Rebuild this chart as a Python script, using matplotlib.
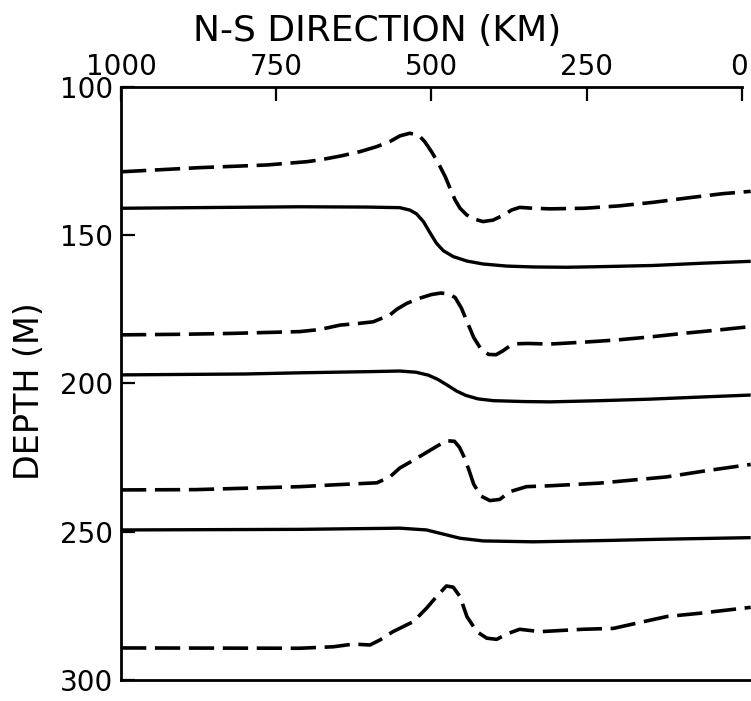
import matplotlib
matplotlib.use("Agg")
import matplotlib.pyplot as plt
from matplotlib.transforms import ScaledTranslation

# profiles: distance (km) and depth (m)
d1_km = [1000, 873, 765, 701, 680, 647, 615, 588, 567, 551, 535, 521, 511, 500, 489, 478, 470, 462, 454,
         443, 430, 417, 401, 384, 371, 358, 336, 309, 254, 198, 143, 87, 32, -14]
d1_z = [128.6, 127.2, 126.3, 125.2, 124.6, 123.3, 121.8, 120.1, 118.4, 116.5, 115.6, 116.2, 118.4, 121.8, 125.7,
        130.2, 134.2, 138.1, 140.9, 143.2, 144.6, 145.4, 144.9, 143.2, 141.5, 140.6, 140.9, 141.1, 140.9, 140.1,
        138.9, 137.4, 136.0, 135.2]

s1_km = [1000, 712, 604, 551, 535, 524, 513, 502, 492, 481, 465, 443, 417, 379, 336, 282, 229, 143, 60, -14]
s1_z = [140.9, 140.4, 140.5, 140.7, 141.5, 142.8, 145.4, 149.3, 152.7, 155.2, 157.2, 158.7, 159.7, 160.4, 160.7,
        160.8, 160.6, 160.2, 159.4, 158.8]

d2_km = [1000, 900, 820, 712, 680, 647, 620, 594, 567, 556, 540, 520, 500, 485, 472, 462, 452, 442, 432, 420,
         408, 396, 385, 375, 362, 345, 309, 250, 200, 148, 90, 40, -14]
d2_z = [183.6, 183.4, 183.1, 182.5, 181.8, 180.3, 179.8, 179.2, 176.9, 175.0, 173.0, 171.3, 170.0, 169.5, 169.8,
        171.0, 174.5, 179.5, 184.5, 188.5, 190.2, 190.3, 189.0, 187.5, 186.6, 186.5, 186.7, 186.0, 185.3, 184.3,
        183.0, 182.0, 180.8]

s2_km = [1000, 800, 712, 600, 551, 525, 505, 490, 475, 460, 445, 425, 400, 350, 309, 229, 150, 70, -14]
s2_z = [197.1, 196.8, 196.4, 196.0, 195.8, 196.2, 197.2, 198.6, 200.5, 202.5, 204.0, 205.2, 205.8, 206.1, 206.2,
        205.8, 205.3, 204.6, 203.9]

d3_km = [1000, 880, 712, 658, 588, 567, 551, 530, 510, 490, 475, 463, 455, 447, 440, 432, 420, 406, 390, 374,
         347, 309, 229, 121, 60, -14]
d3_z = [235.9, 235.8, 234.8, 234.2, 233.5, 231.5, 228.5, 226.0, 223.5, 221.0, 219.3, 219.5, 221.5, 225.0, 229.0,
        234.0, 238.0, 239.5, 239.1, 236.5, 234.8, 234.5, 233.6, 231.5, 229.5, 227.3]

s3_km = [1000, 712, 551, 508, 481, 454, 417, 336, 229, 121, -14]
s3_z = [249.4, 249.2, 248.8, 249.4, 250.8, 252.2, 253.1, 253.4, 253.0, 252.5, 252.0]

d4_km = [1000, 712, 658, 626, 599, 583, 562, 529, 508, 492, 476, 465, 454, 443, 427, 411, 395, 379, 358, 325,
         256, 207, 175, 121, 68, -14]
d4_z = [289.2, 289.3, 288.8, 287.9, 288.2, 286.5, 283.7, 280.3, 275.8, 271.9, 268.3, 268.7, 271.9, 278.6, 283.7,
        285.9, 286.3, 284.5, 282.9, 283.7, 282.9, 282.6, 281.1, 278.6, 277.5, 275.5]

x_ticks = [1000, 750, 500, 250, 0]
y_ticks = [100, 150, 200, 250, 300]

plt.rcParams['font.family'] = ['DejaVu Sans']

fig = plt.figure(figsize=(7.51, 7.01), dpi=100)
ax = fig.add_axes([0.1611, 0.0300, 0.8389, 0.8459])

dash = (0, (7.0, 2.4))
for km, z in [(d1_km, d1_z), (d2_km, d2_z), (d3_km, d3_z), (d4_km, d4_z)]:
    ax.plot(km, z, color='black', lw=2.6, linestyle=dash)
for km, z in [(s1_km, s1_z), (s2_km, s2_z), (s3_km, s3_z)]:
    ax.plot(km, z, color='black', lw=2.4, solid_capstyle='butt')

ax.set_xlim(1000, -14.5)
ax.set_ylim(300, 100)

ax.xaxis.tick_top()
ax.set_xticks(x_ticks)
ax.set_xticklabels([str(v) for v in x_ticks])
ax.set_yticks(y_ticks)
ax.tick_params(axis='x', direction='in', length=10, width=1.6, labelsize=20, pad=4)
ax.tick_params(axis='y', direction='in', length=10, width=1.6, labelsize=20, pad=6)

# keep the "0" at the right edge inside the picture
last = ax.get_xticklabels()[-1]
last.set_transform(last.get_transform() + ScaledTranslation(-3 / 100, 0, fig.dpi_scale_trans))

ax.spines['right'].set_visible(False)
ax.spines['top'].set_bounds(0, 1000)
for s in ['top', 'left', 'bottom']:
    ax.spines[s].set_linewidth(2.0)

fig.text(377 / 751, 1 - 31 / 701, 'N-S DIRECTION (KM)', fontsize=26, ha='center', va='center')
fig.text(30 / 751, 1 - 391 / 701, 'DEPTH (M)', fontsize=24, rotation=90, ha='center', va='center')

fig.savefig('out.png', dpi=100)
